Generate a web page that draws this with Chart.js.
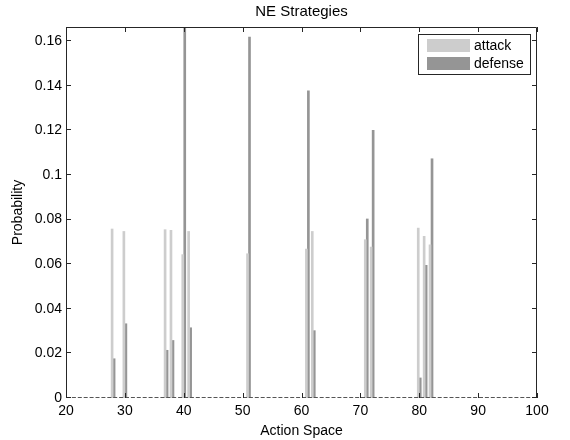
<!DOCTYPE html>
<html>
<head>
<meta charset="utf-8">
<title>NE Strategies</title>
<script src="https://cdn.jsdelivr.net/npm/chart.js@4.4.1/dist/chart.umd.min.js"></script>
<style>
  html, body { margin: 0; padding: 0; background: #fff; }
  #wrap { width: 570px; height: 440px; }
</style>
</head>
<body>
<div id="wrap"><canvas id="neChart"></canvas></div>
<script>
// action positions that have non-zero probability
const actions = [28, 30, 37, 38, 40, 41, 51, 61, 62, 71, 72, 80, 81, 82];
const attack = [0.0758, 0.0747, 0.0755, 0.0752, 0.0643, 0.0747, 0.0647, 0.0668, 0.0747, 0.0710, 0.0677, 0.0762, 0.0725, 0.0687];
const defense = [0.0176, 0.0333, 0.0214, 0.0258, 0.1664, 0.0315, 0.1619, 0.1378, 0.0302, 0.0803, 0.1200, 0.0090, 0.0595, 0.1073];
const xTicks = [20, 30, 40, 50, 60, 70, 80, 90, 100];
const yTicks = [0, 0.02, 0.04, 0.06, 0.08, 0.1, 0.12, 0.14, 0.16];
const seriesNames = ['attack', 'defense'];

const FONT = '"Liberation Sans", Arial, Helvetica, sans-serif';
const LIGHT = '#cdcdcd';
const DARK = '#959595';
const AXIS = '#262626';

// MATLAB style box, inward ticks, dashed baseline and the legend
const matlabFrame = {
  id: 'matlabFrame',
  afterDatasetsDraw(chart) {
    const { ctx, chartArea: a, scales } = chart;
    const x = scales.x, y = scales.y;
    ctx.save();
    ctx.lineWidth = 1;
    ctx.strokeStyle = AXIS;

    // box (left, top, right solid)
    ctx.beginPath();
    ctx.moveTo(a.left + 0.5, a.bottom);
    ctx.lineTo(a.left + 0.5, a.top + 0.5);
    ctx.lineTo(a.right - 0.5, a.top + 0.5);
    ctx.lineTo(a.right - 0.5, a.bottom);
    ctx.stroke();

    // zero baseline looks dashed in the original
    ctx.beginPath();
    ctx.setLineDash([4, 1.9]);
    ctx.strokeStyle = '#555';
    ctx.moveTo(a.left, a.bottom - 0.5);
    ctx.lineTo(a.right, a.bottom - 0.5);
    ctx.stroke();
    ctx.setLineDash([]);
    ctx.strokeStyle = AXIS;

    // inward tick marks
    const len = 5;
    ctx.beginPath();
    xTicks.forEach(v => {
      const px = Math.round(x.getPixelForValue(v)) + 0.5;
      ctx.moveTo(px, a.bottom);
      ctx.lineTo(px, a.bottom - len);
      ctx.moveTo(px, a.top);
      ctx.lineTo(px, a.top + len);
    });
    yTicks.forEach(v => {
      const py = Math.round(y.getPixelForValue(v)) - 0.5;
      ctx.moveTo(a.left, py);
      ctx.lineTo(a.left + len, py);
      ctx.moveTo(a.right, py);
      ctx.lineTo(a.right - len, py);
    });
    ctx.stroke();

    // legend box in the upper right corner
    const lx = 418, ly = 34, lw = 112, lh = 40;
    ctx.fillStyle = '#fff';
    ctx.fillRect(lx, ly, lw, lh);
    ctx.strokeRect(lx + 0.5, ly + 0.5, lw, lh);
    const colors = [LIGHT, DARK];
    ctx.font = '14px ' + FONT;
    ctx.textBaseline = 'middle';
    seriesNames.forEach((name, i) => {
      const sy = ly + 5 + i * 18;
      ctx.fillStyle = colors[i];
      ctx.fillRect(lx + 9, sy, 43, 13);
      ctx.fillStyle = '#000';
      ctx.fillText(name, lx + 56, sy + 7);
    });
    ctx.restore();
  }
};

const ctx = document.getElementById('neChart').getContext('2d');
new Chart(ctx, {
  type: 'bar',
  data: {
    datasets: [
      {
        label: seriesNames[0],
        data: attack.map((v, i) => ({ x: actions[i], y: v })),
        backgroundColor: LIGHT,
        barThickness: 2
      },
      {
        label: seriesNames[1],
        data: defense.map((v, i) => ({ x: actions[i], y: v })),
        backgroundColor: DARK,
        barThickness: 2
      }
    ]
  },
  options: {
    responsive: true,
    maintainAspectRatio: false,
    animation: false,
    layout: { padding: { left: 0, right: 33, top: 0, bottom: 0 } },
    plugins: {
      legend: { display: false },
      tooltip: { enabled: false },
      title: {
        display: true,
        fullSize: false, // centre over the plot area, not the canvas
        text: 'NE Strategies',
        color: '#000',
        font: { family: FONT, size: 15, weight: 'normal' },
        padding: { top: 3, bottom: 6 }
      }
    },
    scales: {
      x: {
        type: 'linear',
        offset: false,
        min: 20,
        max: 100,
        grid: { display: false, drawTicks: false },
        border: { display: false },
        afterBuildTicks: scale => { scale.ticks = xTicks.map(v => ({ value: v })); },
        afterFit: scale => { scale.height = 42; },
        ticks: {
          color: '#000',
          padding: 5,
          maxRotation: 0,
          autoSkip: false,
          font: { family: FONT, size: 14 },
          callback: v => String(v)
        },
        title: {
          display: true,
          text: 'Action Space',
          color: '#000',
          font: { family: FONT, size: 14 },
          padding: { top: 2, bottom: 0 }
        }
      },
      y: {
        min: 0,
        max: 0.1664,
        grid: { display: false, drawTicks: false },
        border: { display: false },
        afterBuildTicks: scale => { scale.ticks = yTicks.map(v => ({ value: v })); },
        afterFit: scale => { scale.width = 66; },
        ticks: {
          color: '#000',
          padding: 4,
          autoSkip: false,
          font: { family: FONT, size: 14 },
          callback: v => String(Math.round(v * 100) / 100)
        },
        title: {
          display: true,
          text: 'Probability',
          color: '#000',
          font: { family: FONT, size: 14 },
          padding: { top: 10, bottom: 0 }
        }
      }
    }
  },
  plugins: [matlabFrame]
});
</script>
</body>
</html>
